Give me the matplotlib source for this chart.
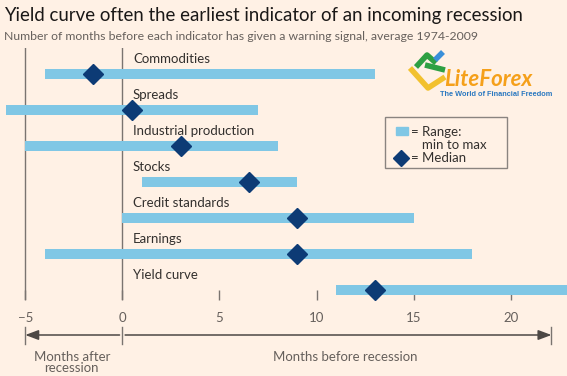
import matplotlib.pyplot as plt
from matplotlib.lines import Line2D
from matplotlib.patches import Rectangle
import matplotlib.transforms as mtransforms

# data (months before recession)
indicators = ['Commodities', 'Spreads', 'Industrial production', 'Stocks',
              'Credit standards', 'Earnings', 'Yield curve']
range_min = [-4, -6, -5, 1, 0, -4, 11]
range_max = [13, 7, 8, 9, 15, 18, 24]
medians = [-1.5, 0.5, 3, 6.5, 9, 9, 13]
xticks = [-5, 0, 5, 10, 15, 20]

bg = '#FFF1E5'
bar_col = '#80C7E5'
dia_col = '#0D3B75'
txt = '#33302E'
grey = '#66605C'

plt.rcParams['font.family'] = ['Lato', 'DejaVu Sans']

W, H = 567, 376
fig = plt.figure(figsize=(W / 100, H / 100), dpi=100, facecolor=bg)

def fx(px):
    return px / W

def fy(py):
    return 1 - py / H

ax = fig.add_axes([0, fy(300), 1, fy(48) - fy(300)])
ax.set_facecolor(bg)
ax.set_xlim(-6.3, 22.9)
ax.set_ylim(6.28, -0.72)

for x in [-5, 0]:
    ax.axvline(x, color='#7A7470', lw=1.0, zorder=1)

for i, name in enumerate(indicators):
    ax.barh(i, range_max[i] - range_min[i], left=range_min[i], height=0.3,
            color=bar_col, zorder=2)
    ax.plot(medians[i], i, marker='D', ms=10, color=dia_col, zorder=3)
    ax.text(0.55, i - 0.42, name, fontsize=9.5, color=txt, va='center', ha='left')

for s in ax.spines.values():
    s.set_visible(False)
ax.set_yticks([])
ax.set_xticks(xticks)
ax.tick_params(axis='x', direction='in', length=7, width=1, color='#7A7470',
               labelcolor=grey, labelsize=9.5, pad=9)

# title and subtitle
fig.text(fx(4), fy(15), 'Yield curve often the earliest indicator of an incoming recession',
         fontsize=13.4, color='#1A1817', va='center', ha='left')
fig.text(fx(4), fy(36), 'Number of months before each indicator has given a warning signal, average 1974-2009',
         fontsize=8.8, color=grey, va='center', ha='left')

# arrows under the axis
tr = mtransforms.blended_transform_factory(ax.transData, fig.transFigure)
ya = fy(335)
arrow_kw = dict(arrowstyle='-|>,head_length=0.8,head_width=0.3', color='#4D4845', lw=1.1)
ax.annotate('', xy=(-5, ya), xytext=(0, ya), xycoords=tr, textcoords=tr,
            arrowprops=dict(**arrow_kw, shrinkA=2, shrinkB=0), annotation_clip=False)
ax.annotate('', xy=(22.1, ya), xytext=(0, ya), xycoords=tr, textcoords=tr,
            arrowprops=dict(**arrow_kw, shrinkA=2, shrinkB=0), annotation_clip=False)
for x in [-5, 0, 22.1]:
    fig.add_artist(Line2D([x, x], [fy(327), fy(344)], transform=tr, color='#7A7470', lw=1))
ax.text(-2.6, fy(351), 'Months after\nrecession', transform=tr, ha='center', va='top',
        fontsize=9.5, color=grey, linespacing=0.95)
ax.text(11.5, fy(351), 'Months before recession', transform=tr, ha='center', va='top',
        fontsize=9.5, color=grey)

# legend box
fig.add_artist(Rectangle((fx(385), fy(168)), fx(507) - fx(385), fy(117) - fy(168),
                         transform=fig.transFigure, fill=False, ec='#8A8480', lw=1))
fig.add_artist(Rectangle((fx(396), fy(135)), fx(12), fy(127) - fy(135),
                         transform=fig.transFigure, color=bar_col))
fig.add_artist(Line2D([fx(401)], [fy(158)], marker='D', ms=8, color=dia_col,
                      transform=fig.transFigure))
fig.text(fx(411), fy(132), '= Range:', fontsize=9.5, color=txt, va='center')
fig.text(fx(422), fy(145), 'min to max', fontsize=9.5, color=txt, va='center')
fig.text(fx(411), fy(158), '= Median', fontsize=9.5, color=txt, va='center')

# watermark logo
for xs, ys, c in [([410, 428, 445], [68, 88, 77], '#F2C12E'),
                  ([416, 427, 436], [67, 55, 63], '#2EA043'),
                  ([425, 445], [65, 70], '#2EA043'),
                  ([435, 443], [60, 52], '#3A8FD9')]:
    fig.add_artist(Line2D([fx(v) for v in xs], [fy(v) for v in ys], color=c, lw=4,
                          solid_capstyle='butt', transform=fig.transFigure))
fig.text(fx(444), fy(80), 'LiteForex', fontsize=16, fontweight='bold', style='italic',
         color='#F5A01A', va='center', ha='left')
fig.text(fx(440), fy(94), 'The World of Financial Freedom', fontsize=5.3, fontweight='bold',
         color='#2A78C0', va='center', ha='left', family=['Liberation Sans', 'DejaVu Sans'])

fig.savefig('out.png', dpi=100, facecolor=bg)
